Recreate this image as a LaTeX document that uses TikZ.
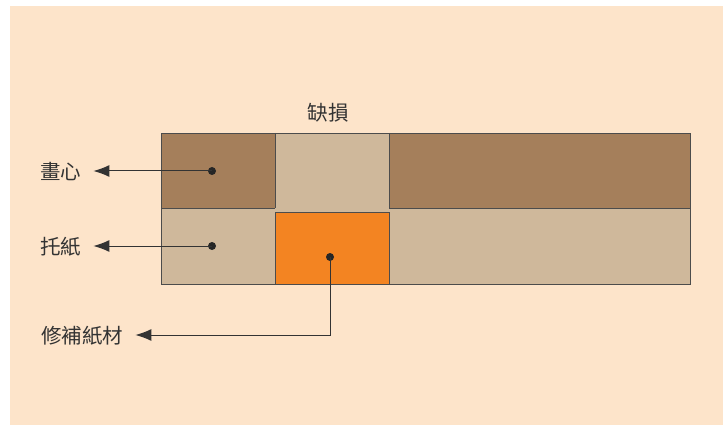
\documentclass[tikz,border=0pt]{standalone}
\usepackage{fontspec}
\newfontfamily\cjk{Noto Sans CJK TC}
\usetikzlibrary{arrows.meta}
\definecolor{bgpeach}{HTML}{FDE4CA}
\definecolor{heartbrown}{HTML}{A57F5B}
\definecolor{backtan}{HTML}{CFB89B}
\definecolor{patchorange}{HTML}{F38422}
\definecolor{inkgray}{HTML}{333333}
\tikzset{
  lbl/.style={font=\cjk\fontsize{20.5}{24}\selectfont, text=inkgray, inner sep=0pt},
  leader/.style={draw=inkgray, line width=1pt, -{Latex[length=16pt,width=12pt]}},
  pin/.style={circle, fill=black!85, inner sep=0pt, minimum size=8pt},
  layer/.style={draw=black!70, line width=0.8pt}
}
\begin{document}
\begin{tikzpicture}[x=1pt,y=-1pt]
\useasboundingbox (0,0) rectangle (723,425);
\fill[white] (0,0) rectangle (723,425);
\fill[bgpeach] (10,6) rectangle (723,425);
% bottom layer (backing paper)
\fill[backtan] (161,208) rectangle (690,284);
% top layer
\fill[heartbrown] (161,133) rectangle (275,208);
\fill[backtan] (275,133) rectangle (389,208);
\fill[heartbrown] (389,133) rectangle (690,208);
% repair patch
\fill[patchorange] (275,212) rectangle (389,284);
\draw[layer] (275,212) rectangle (389,284);
% outlines
\draw[layer] (161,133) rectangle (690,284);
\draw[layer] (161,208) -- (275,208);
\draw[layer] (389,208) -- (690,208);
\draw[layer] (275,133) -- (275,208);
\draw[layer] (389,133) -- (389,208);
% labels
\node[lbl] (gap) at (328,113) {缺損};
\node[lbl, anchor=west] (heart) at (40,172) {畫心};
\node[lbl, anchor=west] (backing) at (40,247) {托紙};
\node[lbl, anchor=west] (repair) at (41,336) {修補紙材};
% pins
\node[pin] (p1) at (212,171) {};
\node[pin] (p2) at (212,246) {};
\node[pin] (p3) at (330,257) {};
\coordinate (bend) at (330,335);
% leaders
\draw[leader] (p1.center) -- ([xshift=12pt]heart.east |- p1);
\draw[leader] (p2.center) -- ([xshift=12pt]backing.east |- p2);
\draw[leader] (p3.center) -- (bend) -- ([xshift=12pt]repair.east |- bend);
\end{tikzpicture}
\end{document}
